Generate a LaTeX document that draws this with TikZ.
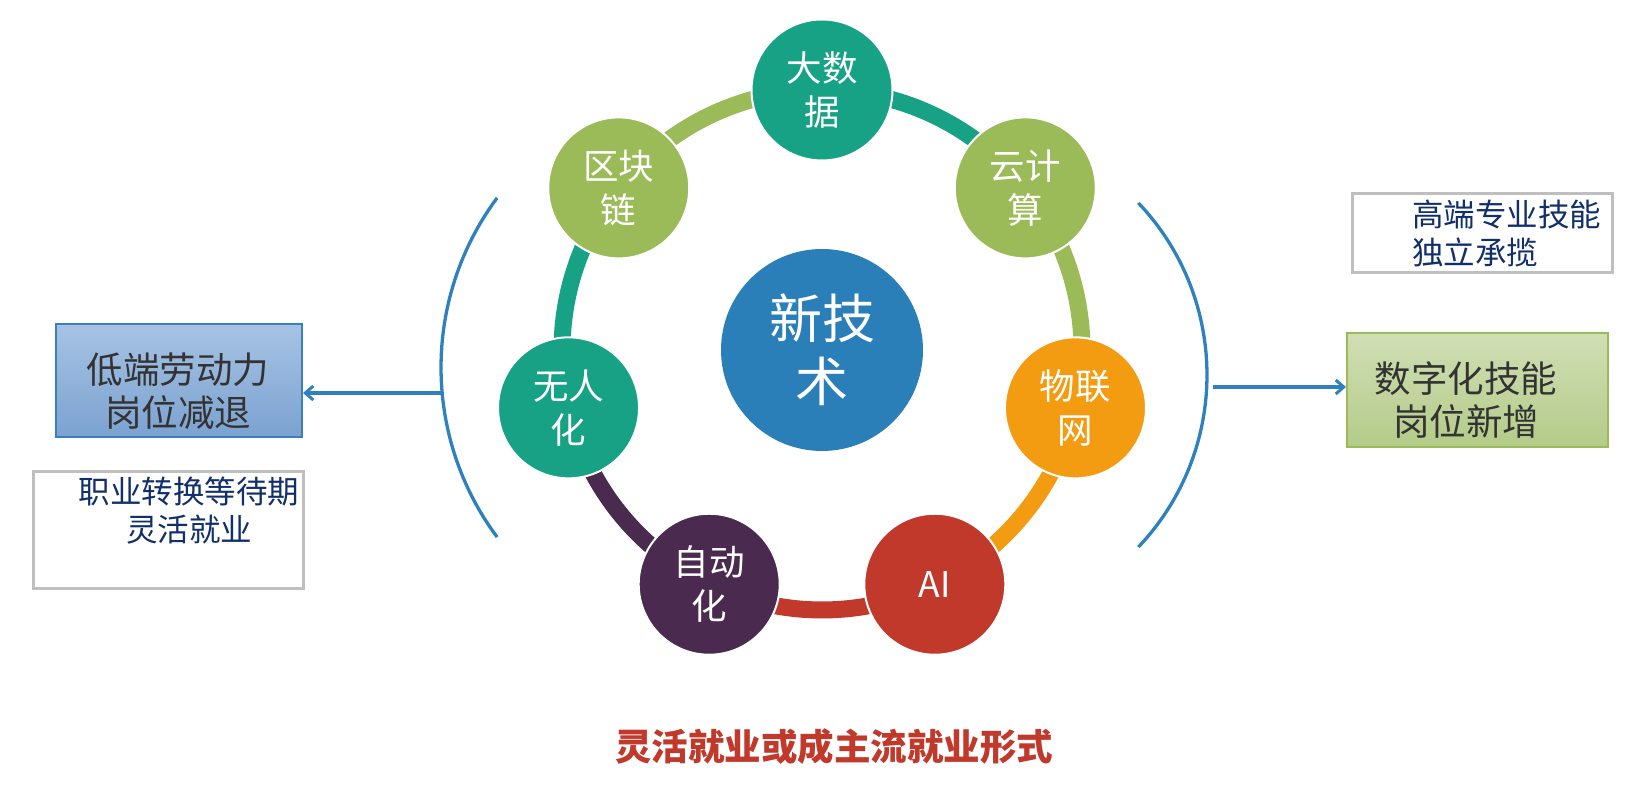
\documentclass[tikz,border=0pt]{standalone}
\usepackage{fontspec}
\setmainfont{Noto Sans CJK SC}
\usetikzlibrary{arrows.meta,calc}
\pgfdeclarelayer{background}
\pgfsetlayers{background,main}
\definecolor{cteal}{HTML}{17A185}
\definecolor{cgreen}{HTML}{9BBB59}
\definecolor{corange}{HTML}{F39C12}
\definecolor{cred}{HTML}{C0392B}
\definecolor{cpurple}{HTML}{4B2A50}
\definecolor{ccenter}{HTML}{2B7FB9}
\definecolor{cbracket}{HTML}{2E80BF}
\definecolor{cnavy}{HTML}{102F6B}
\definecolor{cdark}{HTML}{333333}
\definecolor{clowtop}{HTML}{A7C3E4}
\definecolor{clowbot}{HTML}{7BA2D0}
\definecolor{clowborder}{HTML}{3A7FBE}
\definecolor{cnewtop}{HTML}{D0DFB5}
\definecolor{cnewbot}{HTML}{B4CB88}
\definecolor{cgraybox}{HTML}{BFBFBF}
\tikzset{
  tech/.style={circle, draw=white, line width=2pt, minimum size=141pt, inner sep=0pt,
    text=white, align=center, font=\fontsize{35.5}{44}\selectfont},
  ringseg/.style={line width=17pt},
  bracketarc/.style={draw=cbracket, line width=3.3pt},
  linkarrow/.style={draw=cbracket, line width=3.3pt, -{Straight Barb[length=8pt,width=14pt,line width=3pt]}},
  bigtext/.style={text=cdark, align=center, font=\fontsize{36.5}{43}\selectfont, inner sep=0pt},
  smalltext/.style={text=cnavy, font=\fontsize{31.5}{38}\selectfont, inner sep=0pt},
}
\begin{document}
\begin{tikzpicture}[x=1pt,y=1pt]
\useasboundingbox (0,0) rectangle (1652,795);
\coordinate (C) at (822,445);
% center
\node[circle, fill=ccenter, minimum size=202pt, inner sep=0pt, text=white, align=center,
  font=\fontsize{53}{63}\selectfont] (core) at (C) {新技\\术};
% ring nodes
\node[tech, fill=cteal]   (n0) at ($(C)+(90:260)$) {大数\\据};
\node[tech, fill=cgreen]  (n1) at ($(C)+(38.571:260)$) {云计\\算};
\node[tech, fill=corange] (n2) at ($(C)+(-12.857:260)$) {物联\\网};
\node[tech, fill=cred]    (n3) at ($(C)+(-64.286:260)$) {AI};
\node[tech, fill=cpurple] (n4) at ($(C)+(-115.714:260)$) {自动\\化};
\node[tech, fill=cteal]   (n5) at ($(C)+(-167.143:260)$) {无人\\化};
\node[tech, fill=cgreen]  (n6) at ($(C)+(141.429:260)$) {区块\\链};
% ring segments
\begin{pgfonlayer}{background}
\draw[ringseg, cteal]   (n0.center) arc[start angle=90, end angle=38.571, radius=260];
\draw[ringseg, cgreen]  (n1.center) arc[start angle=38.571, end angle=-12.857, radius=260];
\draw[ringseg, corange] (n2.center) arc[start angle=-12.857, end angle=-64.286, radius=260];
\draw[ringseg, cred]    (n3.center) arc[start angle=-64.286, end angle=-115.714, radius=260];
\draw[ringseg, cpurple] (n4.center) arc[start angle=-115.714, end angle=-167.143, radius=260];
\draw[ringseg, cteal]   (n5.center) arc[start angle=-167.143, end angle=-218.571, radius=260];
\draw[ringseg, cgreen]  (n6.center) arc[start angle=141.429, end angle=90, radius=260];
\end{pgfonlayer}
% brackets
\coordinate (lbc) at (725.5,427.5);
\coordinate (rbc) at (957,420);
\draw[bracketarc] ($(lbc)+(143.4:284.5)$) arc[start angle=143.4, end angle=216.6, radius=284.5];
\draw[bracketarc] ($(rbc)+(43.5:250)$) arc[start angle=43.5, end angle=-43.5, radius=250];
% boxes
\node[draw=clowborder, line width=2pt, top color=clowtop, bottom color=clowbot,
  minimum width=246pt, minimum height=113pt, inner sep=0pt] (lowbox) at (179,414.5) {};
\node[bigtext] (lowtext) at (178,403.5) {低端劳动力\\岗位减退};
\node[draw=cgraybox, line width=3pt, fill=white, minimum width=270pt, minimum height=117pt,
  inner sep=0pt] (flexbox) at (168,264.5) {};
\node[smalltext, align=center] (flextext) at (189,284) {职业转换等待期\\灵活就业};
\node[draw=cgraybox, line width=3pt, fill=white, minimum width=260pt, minimum height=79pt,
  inner sep=0pt] (probox) at (1482,561.5) {};
\node[smalltext, align=left, anchor=west] (protext) at (1412,562) {高端专业技能\\独立承揽};
\node[draw=cgreen, line width=2pt, top color=cnewtop, bottom color=cnewbot,
  minimum width=261pt, minimum height=114pt, inner sep=0pt] (newbox) at (1477.5,405) {};
\node[bigtext] (newtext) at (1466,395) {数字化技能\\岗位新增};
% arrows
\coordinate (la) at (442,402);
\coordinate (ra) at (1213,408);
\draw[linkarrow] (la) -- (la -| lowbox.east);
\draw[linkarrow] (ra) -- (ra -| newbox.west);
% bottom caption
\node[text=cred, font=\fontsize{36.5}{40}\selectfont\bfseries, inner sep=0pt] (caption) at (834,48)
  {灵活就业或成主流就业形式};
\end{tikzpicture}
\end{document}
